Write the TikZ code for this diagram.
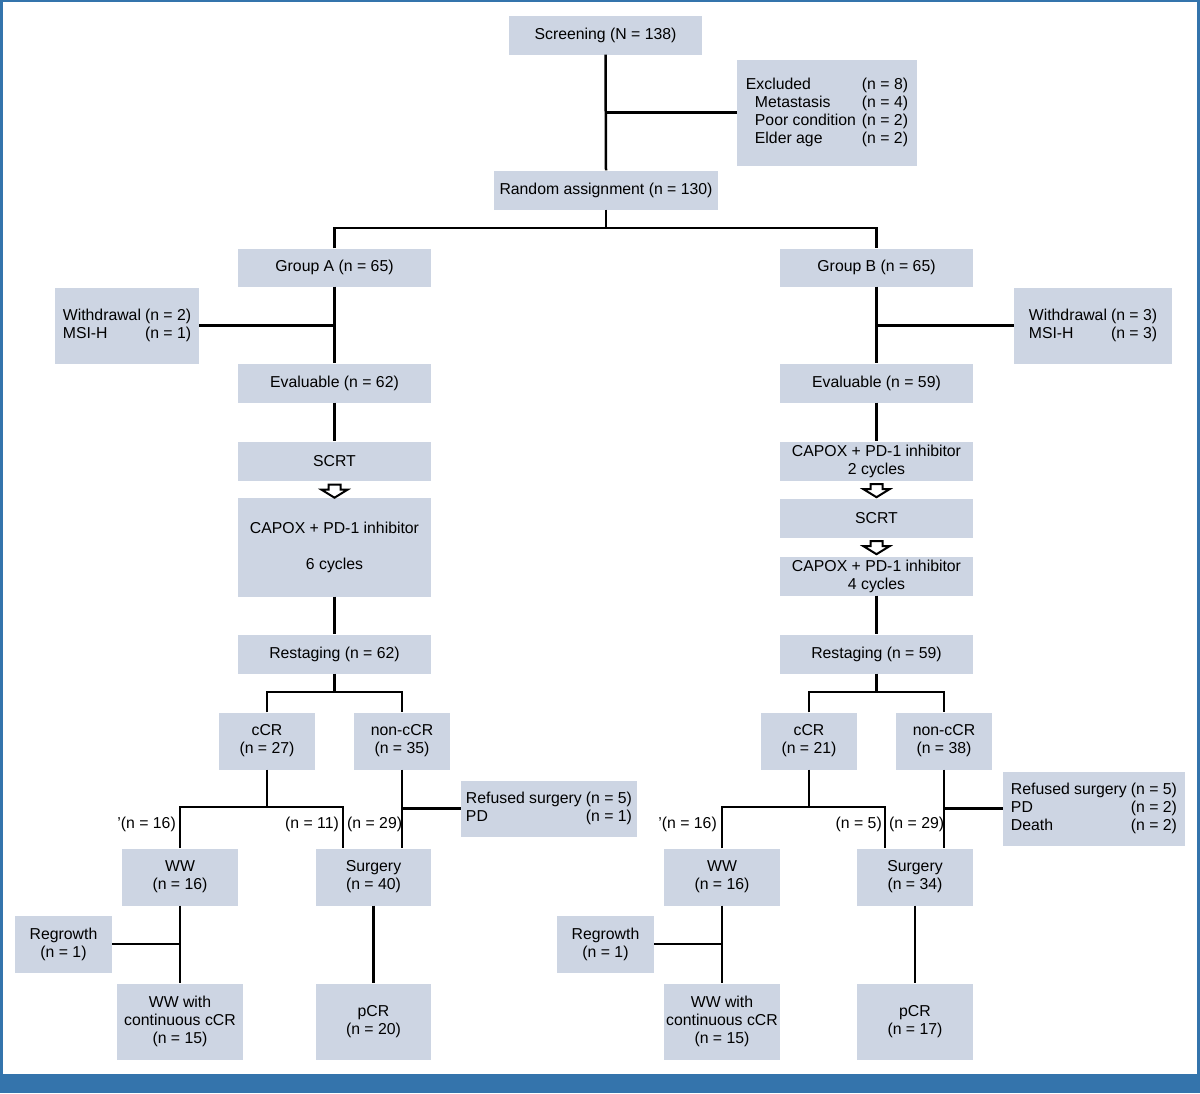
\documentclass[tikz,border=0pt]{standalone}
\usepackage{fontspec}
\setmainfont{Liberation Sans}
\usetikzlibrary{calc}
\definecolor{boxfill}{RGB}{205,213,227}
\definecolor{frameblue}{RGB}{52,116,172}
\begin{document}
\begin{tikzpicture}[x=1pt,y=-1pt,
  box/.style={fill=boxfill, inner sep=0pt, align=center, font=\fontsize{15.8}{18}\selectfont},
  conn/.style={line width=2.5pt},
  lab/.style={font=\fontsize{15.8}{18}\selectfont, inner sep=0pt},
  hollow/.style={draw, fill=white, line width=2pt, line join=miter}
]
\useasboundingbox (0,0) rectangle (1200,1093);
% frame
\fill[frameblue] (0,0) rectangle (1200,2);
\fill[frameblue] (0,0) rectangle (2.5,1093);
\fill[frameblue] (1197,0) rectangle (1200,1093);
\fill[frameblue] (0,1074) rectangle (1200,1093);

% nodes
\node[box, minimum width=193pt, minimum height=39pt] (screen) at (605.5,35) {Screening (N = 138)};
\node[box, minimum width=180pt, minimum height=106pt] (excl) at (827,112.5)
  {\begin{tabular}{@{}l@{\hspace{6pt}}l@{}}Excluded & (n = 8)\\ \hspace{9pt}Metastasis & (n = 4)\\ \hspace{9pt}Poor condition & (n = 2)\\ \hspace{9pt}Elder age & (n = 2)\end{tabular}};
\node[box, minimum width=224pt, minimum height=39pt] (random) at (606,190) {Random assignment (n = 130)};

\node[box, minimum width=193pt, minimum height=38pt] (grpA) at (334.5,267.5) {Group A (n = 65)};
\node[box, minimum width=193pt, minimum height=38pt] (grpB) at (876.5,267.5) {Group B (n = 65)};
\node[box, minimum width=144pt, minimum height=76pt] (wdA) at (127,325.5)
  {\begin{tabular}{@{}l@{\hspace{4pt}}r@{}}Withdrawal & (n = 2)\\ MSI-H & (n = 1)\end{tabular}};
\node[box, minimum width=158pt, minimum height=76pt] (wdB) at (1093,325.5)
  {\begin{tabular}{@{}l@{\hspace{4pt}}r@{}}Withdrawal & (n = 3)\\ MSI-H & (n = 3)\end{tabular}};
\node[box, minimum width=193pt, minimum height=39pt] (evalA) at (334.5,383) {Evaluable (n = 62)};
\node[box, minimum width=193pt, minimum height=39pt] (evalB) at (876.5,383) {Evaluable (n = 59)};

\node[box, minimum width=193pt, minimum height=39pt] (scrtA) at (334.5,461) {SCRT};
\node[box, minimum width=193pt, minimum height=99pt] (capA) at (334.5,547) {CAPOX + PD-1 inhibitor\\[18pt]6 cycles};
\node[box, minimum width=193pt, minimum height=39pt] (capB1) at (876.5,461) {CAPOX + PD-1 inhibitor\\2 cycles};
\node[box, minimum width=193pt, minimum height=39pt] (scrtB) at (876.5,518) {SCRT};
\node[box, minimum width=193pt, minimum height=39pt] (capB2) at (876.5,576) {CAPOX + PD-1 inhibitor\\4 cycles};

\node[box, minimum width=193pt, minimum height=39pt] (restA) at (334.5,654) {Restaging (n = 62)};
\node[box, minimum width=193pt, minimum height=39pt] (restB) at (876.5,654) {Restaging (n = 59)};

\node[box, minimum width=96pt, minimum height=57pt] (ccrA) at (267,741) {cCR\\(n = 27)};
\node[box, minimum width=96pt, minimum height=57pt] (nccrA) at (402,741) {non-cCR\\(n = 35)};
\node[box, minimum width=96pt, minimum height=57pt] (ccrB) at (809,741) {cCR\\(n = 21)};
\node[box, minimum width=96pt, minimum height=57pt] (nccrB) at (944,741) {non-cCR\\(n = 38)};

\node[box, minimum width=176pt, minimum height=56pt] (refA) at (549,808.5)
  {\begin{tabular}{@{}l@{\hspace{4pt}}r@{}}Refused surgery & (n = 5)\\ PD & (n = 1)\end{tabular}};
\node[box, minimum width=182pt, minimum height=74pt] (refB) at (1094,808.5)
  {\begin{tabular}{@{}l@{\hspace{4pt}}r@{}}Refused surgery & (n = 5)\\ PD & (n = 2)\\ Death & (n = 2)\end{tabular}};

\node[box, minimum width=116pt, minimum height=57pt] (wwA) at (180,877) {WW\\(n = 16)};
\node[box, minimum width=115pt, minimum height=57pt] (surgA) at (373.5,877) {Surgery\\(n = 40)};
\node[box, minimum width=116pt, minimum height=57pt] (wwB) at (722,877) {WW\\(n = 16)};
\node[box, minimum width=116pt, minimum height=57pt] (surgB) at (915,877) {Surgery\\(n = 34)};

\node[box, minimum width=97pt, minimum height=57pt] (regA) at (63.5,944) {Regrowth\\(n = 1)};
\node[box, minimum width=97pt, minimum height=57pt] (regB) at (605.5,944) {Regrowth\\(n = 1)};

\node[box, minimum width=126pt, minimum height=76pt] (wwcA) at (180,1021.5) {WW with\\continuous cCR\\(n = 15)};
\node[box, minimum width=115pt, minimum height=76pt] (pcrA) at (373.5,1021.5) {pCR\\(n = 20)};
\node[box, minimum width=116pt, minimum height=76pt] (wwcB) at (722,1021.5) {WW with\\continuous cCR\\(n = 15)};
\node[box, minimum width=116pt, minimum height=76pt] (pcrB) at (915,1021.5) {pCR\\(n = 17)};

% branch labels
\node[lab, anchor=east] (lA1) at (176,824) {'(n = 16)};
\node[lab, anchor=east] (lA2) at (339,824) {(n = 11)};
\node[lab, anchor=west] (lA3) at (347,824) {(n = 29)};
\node[lab, anchor=east] (lB1) at (717,824) {'(n = 16)};
\node[lab, anchor=east] (lB2) at (882,824) {(n = 5)};
\node[lab, anchor=west] (lB3) at (889,824) {(n = 29)};

% helper coordinates
\coordinate (s1) at (606,228);
\coordinate (sA) at (334.5,692);
\coordinate (sB) at (876.5,692);
\coordinate (cA) at (267,807);
\coordinate (cB) at (809,807);
\coordinate (xa) at (343,0);
\coordinate (xb) at (885,0);

% connectors
\draw[conn] (screen.south) -- (random.north);
\draw[conn] (screen.south |- excl.west) -- (excl.west);
\draw[conn] (random.south) -- (s1);
\draw[conn] (grpA.north) |- (s1) -| (grpB.north);
\draw[conn] (grpA.south) -- (evalA.north);
\draw[conn] (grpA.south |- wdA.east) -- (wdA.east);
\draw[conn] (grpB.south) -- (evalB.north);
\draw[conn] (grpB.south |- wdB.west) -- (wdB.west);
\draw[conn] (evalA.south) -- (scrtA.north);
\draw[conn] (capA.south) -- (restA.north);
\draw[conn] (evalB.south) -- (capB1.north);
\draw[conn] (capB2.south) -- (restB.north);

% hollow arrows
\draw[hollow] (scrtA.south) ++(-6,4) -- ++(12,0) -- ++(0,5) -- ++(7,0) -- ++(-13,8) -- ++(-13,-8) -- ++(7,0) -- cycle;
\draw[hollow] (capB1.south) ++(-6,3.5) -- ++(12,0) -- ++(0,5) -- ++(7,0) -- ++(-13,8) -- ++(-13,-8) -- ++(7,0) -- cycle;
\draw[hollow] (scrtB.south) ++(-6,3.5) -- ++(12,0) -- ++(0,5) -- ++(7,0) -- ++(-13,8) -- ++(-13,-8) -- ++(7,0) -- cycle;

\draw[conn] (restA.south) -- (sA);
\draw[conn] (ccrA.north) |- (sA) -| (nccrA.north);
\draw[conn] (restB.south) -- (sB);
\draw[conn] (ccrB.north) |- (sB) -| (nccrB.north);

\draw[conn] (ccrA.south) -- (cA);
\draw[conn] (wwA.north) |- (cA) -| (surgA.north -| xa);
\draw[conn] (nccrA.south) -- (nccrA.south |- surgA.north);
\draw[conn] (nccrA.south |- refA.west) -- (refA.west);
\draw[conn] (wwA.south) -- (wwcA.north);
\draw[conn] (wwA.south |- regA.east) -- (regA.east);
\draw[conn] (surgA.south) -- (pcrA.north);

\draw[conn] (ccrB.south) -- (cB);
\draw[conn] (wwB.north) |- (cB) -| (surgB.north -| xb);
\draw[conn] (nccrB.south) -- (nccrB.south |- surgB.north);
\draw[conn] (nccrB.south |- refB.west) -- (refB.west);
\draw[conn] (wwB.south) -- (wwcB.north);
\draw[conn] (wwB.south |- regB.east) -- (regB.east);
\draw[conn] (surgB.south) -- (pcrB.north);
\end{tikzpicture}
\end{document}
